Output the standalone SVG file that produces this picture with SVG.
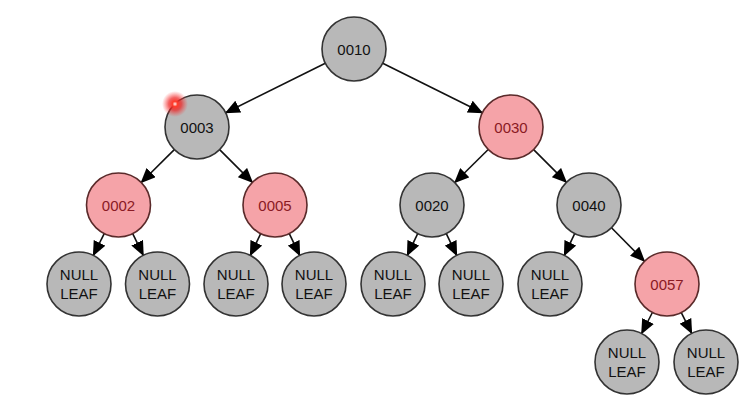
<svg xmlns="http://www.w3.org/2000/svg" width="750" height="415" viewBox="0 0 750 415">
<defs>
<marker id="ah" markerUnits="userSpaceOnUse" markerWidth="15" markerHeight="13" refX="14" refY="6.5" orient="auto">
<path d="M0,0 L15,6.5 L0,13 Z" fill="#000"/>
</marker>
<radialGradient id="glow">
<stop offset="0" stop-color="#fff4f0"/>
<stop offset="0.2" stop-color="#ff3a2a"/>
<stop offset="0.5" stop-color="#ee2222" stop-opacity="0.7"/>
<stop offset="1" stop-color="#ff4040" stop-opacity="0"/>
</radialGradient>
<style>
.b{fill:#b8b8b8;stroke:#333;stroke-width:1.6}
.r{fill:#f5a3a8;stroke:#5a2a2a;stroke-width:1.6}
.e{stroke:#111;stroke-width:1.6;fill:none;marker-end:url(#ah)}
text{font-family:"Liberation Sans",Arial,sans-serif;font-size:15px;text-anchor:middle}
.tb{fill:#111}
.tr{fill:#8a1a24}
</style>
</defs>
<rect width="750" height="415" fill="#fff"/>
<g id="edges">
<line class="e" x1="325.3" y1="63.2" x2="225.7" y2="112.8"/>
<line class="e" x1="382.7" y1="63.2" x2="482.3" y2="112.8"/>
<line class="e" x1="174.3" y1="149.6" x2="141.2" y2="182.5"/>
<line class="e" x1="219.6" y1="149.6" x2="252.4" y2="182.4"/>
<line class="e" x1="488.2" y1="149.5" x2="454.8" y2="182.5"/>
<line class="e" x1="533.6" y1="149.6" x2="566.4" y2="182.4"/>
<line class="e" x1="104.2" y1="233.6" x2="93.3" y2="255.4"/>
<line class="e" x1="132.7" y1="233.7" x2="143.3" y2="255.3"/>
<line class="e" x1="260.7" y1="233.6" x2="250.3" y2="255.4"/>
<line class="e" x1="289.3" y1="233.6" x2="299.7" y2="255.4"/>
<line class="e" x1="417.7" y1="233.6" x2="407.3" y2="255.4"/>
<line class="e" x1="446.3" y1="233.6" x2="456.7" y2="255.4"/>
<line class="e" x1="574.7" y1="233.6" x2="564.3" y2="255.4"/>
<line class="e" x1="611.5" y1="227.8" x2="644.5" y2="261.2"/>
<line class="e" x1="652.4" y1="312.5" x2="641.6" y2="333.5"/>
<line class="e" x1="681.3" y1="312.6" x2="691.7" y2="333.4"/>
</g>
<g id="n0010"><circle class="b" cx="354" cy="49" r="32"/><text class="tb" x="354" y="54.5">0010</text></g>
<g id="n0003"><circle class="b" cx="197" cy="127" r="32"/><text class="tb" x="197" y="132.5">0003</text></g>
<g id="n0030"><circle class="r" cx="511" cy="127" r="32"/><text class="tr" x="511" y="132.5">0030</text></g>
<g id="n0002"><circle class="r" cx="118.5" cy="205" r="32"/><text class="tr" x="118.5" y="210.5">0002</text></g>
<g id="n0005"><circle class="r" cx="275" cy="205" r="32"/><text class="tr" x="275" y="210.5">0005</text></g>
<g id="n0020"><circle class="b" cx="432" cy="205" r="32"/><text class="tb" x="432" y="210.5">0020</text></g>
<g id="n0040"><circle class="b" cx="589" cy="205" r="32"/><text class="tb" x="589" y="210.5">0040</text></g>
<g id="n0057"><circle class="r" cx="667" cy="284" r="32"/><text class="tr" x="667" y="289.5">0057</text></g>
<g id="leaf1"><circle class="b" cx="79" cy="284" r="32"/><text class="tb" x="79" y="280">NULL</text><text class="tb" x="79" y="299">LEAF</text></g>
<g id="leaf2"><circle class="b" cx="157.5" cy="284" r="32"/><text class="tb" x="157.5" y="280">NULL</text><text class="tb" x="157.5" y="299">LEAF</text></g>
<g id="leaf3"><circle class="b" cx="236" cy="284" r="32"/><text class="tb" x="236" y="280">NULL</text><text class="tb" x="236" y="299">LEAF</text></g>
<g id="leaf4"><circle class="b" cx="314" cy="284" r="32"/><text class="tb" x="314" y="280">NULL</text><text class="tb" x="314" y="299">LEAF</text></g>
<g id="leaf5"><circle class="b" cx="393" cy="284" r="32"/><text class="tb" x="393" y="280">NULL</text><text class="tb" x="393" y="299">LEAF</text></g>
<g id="leaf6"><circle class="b" cx="471" cy="284" r="32"/><text class="tb" x="471" y="280">NULL</text><text class="tb" x="471" y="299">LEAF</text></g>
<g id="leaf7"><circle class="b" cx="550" cy="284" r="32"/><text class="tb" x="550" y="280">NULL</text><text class="tb" x="550" y="299">LEAF</text></g>
<g id="leaf8"><circle class="b" cx="627" cy="362" r="32"/><text class="tb" x="627" y="358">NULL</text><text class="tb" x="627" y="377">LEAF</text></g>
<g id="leaf9"><circle class="b" cx="706" cy="362" r="32"/><text class="tb" x="706" y="358">NULL</text><text class="tb" x="706" y="377">LEAF</text></g>
<circle cx="175" cy="104" r="13" fill="url(#glow)"/>
</svg>
